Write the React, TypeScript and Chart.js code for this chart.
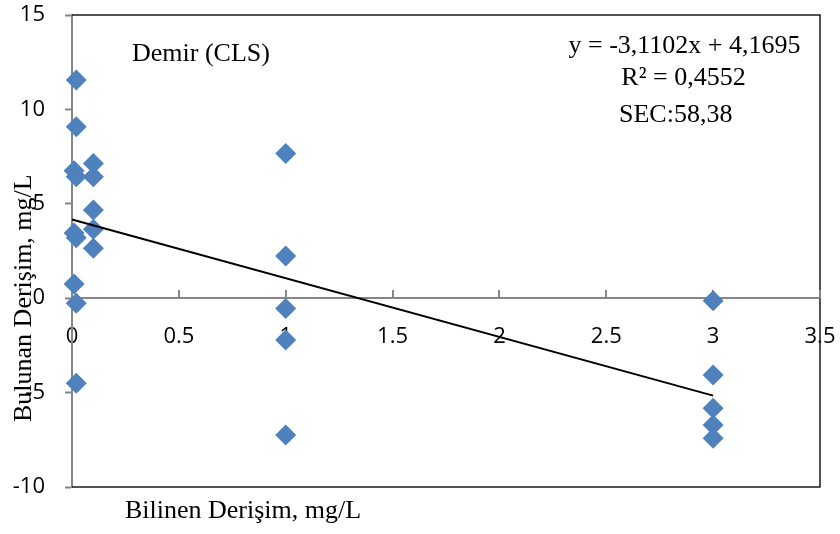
import { useEffect, useRef } from "react";
import { Chart, registerables } from "chart.js";

Chart.register(...registerables);

// Known concentration (x) and found concentration (y), mg/L
const knownConc = [
  0.02, 0.02, 0.02, 0.02, 0.02, 0.02,
  0.01, 0.01, 0.01,
  0.1, 0.1, 0.1, 0.1, 0.1,
  1, 1, 1, 1, 1,
  3, 3, 3, 3, 3,
];
const foundConc = [
  11.56, 9.08, 6.43, 3.2, -0.27, -4.51,
  6.75, 3.45, 0.75,
  7.14, 6.43, 4.67, 3.65, 2.64,
  7.67, 2.24, -0.54, -2.21, -7.25,
  -0.13, -4.07, -5.83, -6.72, -7.42,
];
// Trend line end points
const trendX = [0, 3];
const trendY = [4.1695, -5.1611];

const xTicks = [0, 0.5, 1, 1.5, 2, 2.5, 3, 3.5];
const yTicks = [-10, -5, 0, 5, 10, 15];

const titleText = "Demir (CLS)";
const equationText = "y = -3,1102x + 4,1695";
const r2Text = "R² = 0,4552";
const secText = "SEC:58,38";
const xTitle = "Bilinen Derişim, mg/L";
const yTitle = "Bulunan Derişim, mg/L";

const AXIS_GRAY = "#868686";
const SERIF = '26px "Liberation Serif", "Times New Roman", serif';
const TICK_FONT = { family: '"Open Sans", sans-serif', size: 22 };

const framePlugin = {
  id: "frame",
  beforeDatasetsDraw(chart: any) {
    const { ctx, chartArea } = chart;
    const { left, right, top, bottom } = chartArea;
    const xs = chart.scales.x;
    const ys = chart.scales.y;
    ctx.save();
    // black plot-area frame (top, right, bottom)
    ctx.strokeStyle = "#1a1a1a";
    ctx.lineWidth = 1.5;
    ctx.beginPath();
    ctx.moveTo(left, top);
    ctx.lineTo(right, top);
    ctx.lineTo(right, bottom);
    ctx.lineTo(left, bottom);
    ctx.stroke();
    // x-axis line at y = 0 and tick marks pointing up
    const y0 = Math.round(ys.getPixelForValue(0));
    ctx.strokeStyle = AXIS_GRAY;
    ctx.lineWidth = 2;
    ctx.beginPath();
    ctx.moveTo(left, y0);
    ctx.lineTo(right, y0);
    xTicks.forEach((v) => {
      if (v === 0) return;
      const px = Math.round(xs.getPixelForValue(v));
      ctx.moveTo(px, y0 - 8);
      ctx.lineTo(px, y0);
    });
    ctx.stroke();
    ctx.restore();
  },
  afterDraw(chart: any) {
    const { ctx } = chart;
    ctx.save();
    ctx.fillStyle = "#000";
    ctx.font = SERIF;
    ctx.textBaseline = "alphabetic";
    ctx.textAlign = "left";
    ctx.fillText(titleText, 132, 61);
    ctx.fillText(secText, 619, 121.5);
    ctx.fillText(xTitle, 125, 518);
    ctx.textAlign = "center";
    ctx.fillText(equationText, 684.5, 53);
    ctx.fillText(r2Text, 683.5, 85);
    // y axis title (rotated)
    ctx.translate(31, 422);
    ctx.rotate(-Math.PI / 2);
    ctx.textAlign = "left";
    ctx.fillText(yTitle, 0, 0);
    ctx.restore();
  },
};

export default function App() {
  const canvasRef = useRef<HTMLCanvasElement | null>(null);

  useEffect(() => {
    document.body.style.margin = "0";
    const canvas = canvasRef.current;
    if (!canvas) return;
    const points = knownConc.map((x, i) => ({ x, y: foundConc[i] }));
    const trend = trendX.map((x, i) => ({ x, y: trendY[i] }));

    const chart = new Chart(canvas, {
      type: "scatter",
      data: {
        datasets: [
          {
            label: "Trend",
            data: trend,
            showLine: true,
            borderColor: "#000",
            borderWidth: 2,
            pointRadius: 0,
            pointHoverRadius: 0,
            clip: false as any,
          },
          {
            label: "Demir (CLS)",
            data: points,
            pointStyle: "rectRot",
            pointRadius: 10.5,
            pointHoverRadius: 10.5,
            backgroundColor: "#4F81BD",
            borderColor: "#4F81BD",
            borderWidth: 0,
            clip: false as any,
          },
        ],
      },
      options: {
        animation: false,
        responsive: false,
        layout: { padding: { left: 0, top: 15, right: 20, bottom: 47 } },
        plugins: {
          legend: { display: false },
          tooltip: { enabled: false },
        },
        events: [],
        scales: {
          x: {
            type: "linear",
            position: { y: 0 } as any,
            z: 1,
            min: 0,
            max: 3.5,
            afterBuildTicks: (scale: any) => {
              scale.ticks = xTicks.map((v) => ({ value: v }));
            },
            afterFit: (scale: any) => {
              scale.paddingLeft = 0;
              scale.paddingRight = 0;
              scale.paddingTop = 0;
              scale.paddingBottom = 0;
            },
            grid: { display: false, drawTicks: false },
            border: { display: false },
            ticks: {
              padding: 25,
              color: "#000",
              font: TICK_FONT,
              maxRotation: 0,
              autoSkip: false,
              callback: (v: any) => String(v),
            },
          },
          y: {
            type: "linear",
            position: "left",
            min: -10,
            max: 15,
            afterBuildTicks: (scale: any) => {
              scale.ticks = yTicks.map((v) => ({ value: v }));
            },
            afterFit: (scale: any) => {
              scale.width = 72;
              scale.paddingLeft = 0;
              scale.paddingRight = 0;
              scale.paddingTop = 0;
              scale.paddingBottom = 0;
            },
            grid: {
              drawOnChartArea: false,
              drawTicks: true,
              tickLength: 7,
              tickColor: AXIS_GRAY,
              tickWidth: 2,
            },
            border: { display: true, color: AXIS_GRAY, width: 2 },
            ticks: {
              padding: 20,
              color: "#000",
              font: TICK_FONT,
              callback: (v: any) => String(v),
            },
          },
        },
      },
      plugins: [framePlugin],
    });
    return () => chart.destroy();
  }, []);

  return (
    <div style={{ width: 840, height: 534 }}>
      <canvas ref={canvasRef} width={840} height={534} style={{ display: "block" }} />
    </div>
  );
}
